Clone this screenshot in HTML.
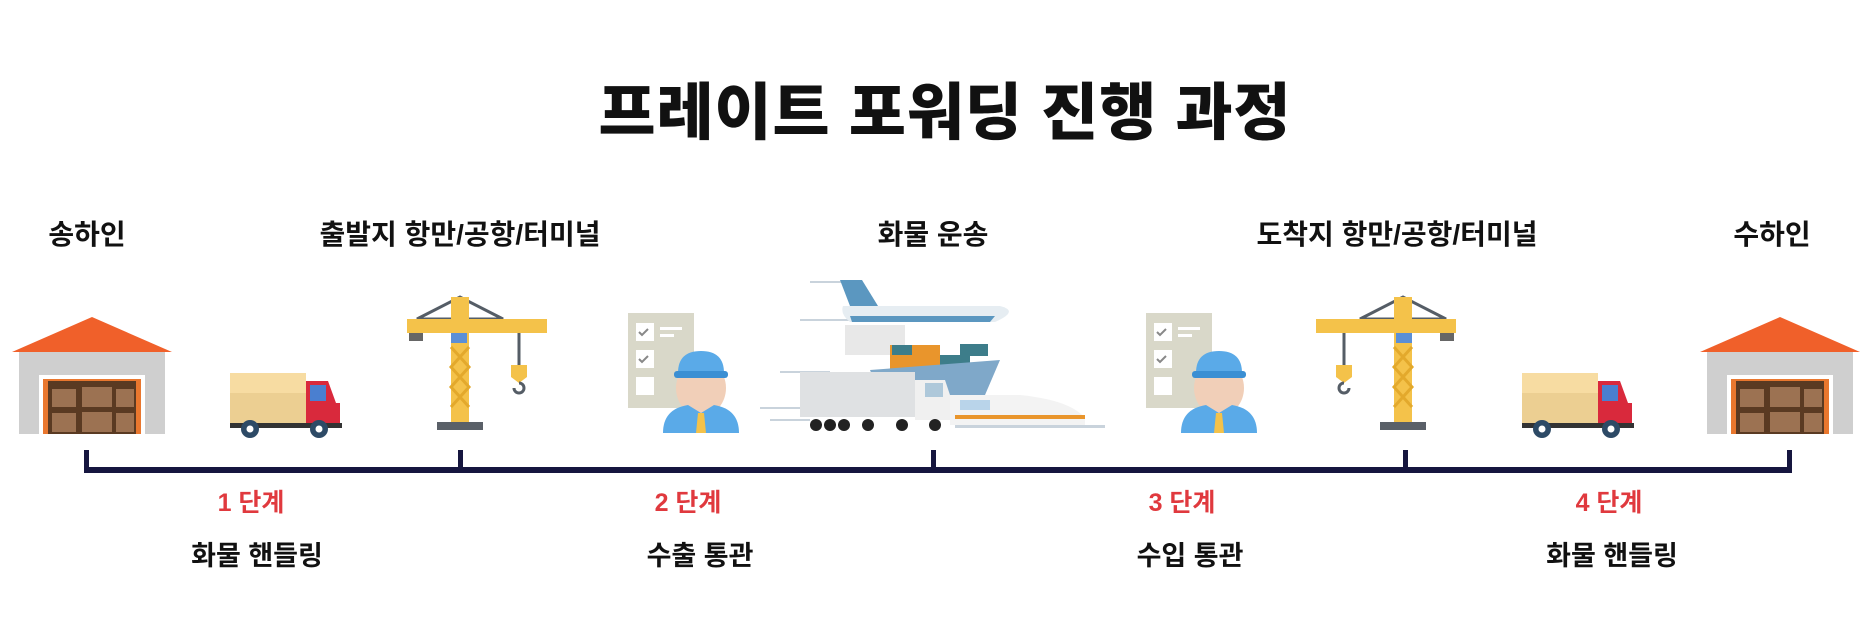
<!DOCTYPE html>
<html><head><meta charset="utf-8"><style>
html,body{margin:0;padding:0;background:#fff;}
body{width:1875px;height:625px;position:relative;overflow:hidden;font-family:"Liberation Sans","Noto Sans CJK KR",sans-serif;}
.t{position:absolute;transform:translateX(-50%);white-space:nowrap;font-weight:700;color:#111;}
.title{top:62px;left:945px;font-size:62px;font-weight:900;letter-spacing:1px;}
.lab{top:213px;font-size:28px;}
.step{top:483px;font-size:25px;color:#e0393e;}
.desc{top:534px;font-size:27px;}
svg{position:absolute;left:0;top:0;}
</style></head><body>
<svg width="1875" height="625" viewBox="0 0 1875 625">
<defs>
 <g id="wh">
  <polygon points="0,35 80,0 160,35" fill="#f0602a"/>
  <rect x="7" y="35" width="146" height="82" fill="#cfcfcf"/>
  <rect x="27" y="58" width="106" height="59" fill="#fff"/>
  <rect x="31" y="62" width="98" height="55" fill="#e9772e"/>
  <rect x="36" y="64" width="88" height="53" fill="#5a3a22"/>
  <rect x="40" y="72" width="24" height="18" fill="#9c7252"/><rect x="70" y="70" width="30" height="20" fill="#9c7252"/><rect x="104" y="72" width="18" height="18" fill="#9c7252"/>
  <rect x="40" y="96" width="24" height="19" fill="#9c7252"/><rect x="70" y="95" width="30" height="20" fill="#9c7252"/><rect x="104" y="96" width="18" height="19" fill="#9c7252"/>
 </g>
 <g id="tr">
  <rect x="0" y="0" width="76" height="33" fill="#f7dca2"/>
  <rect x="0" y="20" width="76" height="30" fill="#eccf92"/>
  <path d="M76 8 H98 L106 30 H110 V50 H76 Z" fill="#d9293c"/>
  <rect x="80" y="12" width="16" height="16" fill="#4a7fd0"/>
  <rect x="0" y="50" width="112" height="5" fill="#333"/>
  <circle cx="20" cy="56" r="9" fill="#2d4a66"/><circle cx="20" cy="56" r="3.5" fill="#fff"/>
  <circle cx="89" cy="56" r="9" fill="#2d4a66"/><circle cx="89" cy="56" r="3.5" fill="#fff"/>
 </g>
 <g id="cr">
  <polygon points="10,22 53,0 96,22" fill="none" stroke="#555d66" stroke-width="3"/>
  <rect x="0" y="22" width="140" height="14" fill="#f4c24a"/>
  <rect x="2" y="36" width="14" height="8" fill="#666"/>
  <rect x="44" y="0" width="18" height="128" fill="#f4c24a"/>
  <path d="M44 50 L62 70 L44 90 L62 110 M62 50 L44 70 L62 90 L44 110" stroke="#e3a92c" stroke-width="3" fill="none"/>
  <rect x="44" y="36" width="16" height="10" fill="#5b8fd6"/>
  <rect x="30" y="125" width="46" height="8" fill="#5a6068"/>
  <line x1="112" y1="36" x2="112" y2="68" stroke="#555d66" stroke-width="3"/>
  <path d="M104 68 H120 V80 L112 86 L104 80 Z" fill="#f4c24a"/>
  <path d="M112 86 a5 5 0 1 1 -5 5" stroke="#555d66" stroke-width="3" fill="none"/>
 </g>
 <g id="cu">
  <rect x="0" y="0" width="66" height="95" fill="#d9d8c9"/>
  <rect x="8" y="10" width="18" height="18" fill="#fff"/><rect x="32" y="14" width="22" height="3" fill="#fff"/><rect x="32" y="21" width="14" height="3" fill="#fff"/>
  <rect x="8" y="37" width="18" height="18" fill="#fff"/>
  <rect x="8" y="64" width="18" height="18" fill="#fff"/>
  <path d="M11 19 l3 3 l6 -6 M11 46 l3 3 l6 -6" stroke="#888" stroke-width="2" fill="none"/>
  <ellipse cx="73" cy="75" rx="25" ry="28" fill="#f1cfb8"/>
  <path d="M50 60 Q50 38 73 38 Q96 38 96 60 Z" fill="#5aaae8"/>
  <rect x="46" y="58" width="54" height="7" rx="3" fill="#3b8fd3"/>
  <path d="M35 120 Q35 96 60 92 L73 100 L86 92 Q111 96 111 120 Z" fill="#5aaae8"/>
  <polygon points="70,100 76,100 78,120 68,120" fill="#f4c24a"/>
 </g>
</defs>
<use href="#wh" x="12" y="317"/>
<use href="#wh" x="1700" y="317"/>
<use href="#tr" x="230" y="373"/>
<use href="#tr" x="1522" y="373"/>
<use href="#cr" x="407" y="297"/>
<use href="#cr" transform="translate(1456,297) scale(-1,1)"/>
<use href="#cu" x="628" y="313"/>
<use href="#cu" x="1146" y="313"/>
<g>
 <g stroke="#c9d3dc" stroke-width="2"><line x1="810" y1="282" x2="860" y2="282"/><line x1="800" y1="320" x2="850" y2="320"/><line x1="780" y1="372" x2="830" y2="372"/><line x1="760" y1="408" x2="810" y2="408"/><line x1="770" y1="420" x2="810" y2="420"/></g>
 <polygon points="840,280 862,280 878,306 850,306" fill="#5b97c0"/>
 <path d="M843 306 H1000 Q1020 311 995 322 H850 Q840 314 843 306 Z" fill="#e6edf2"/>
 <path d="M850 316 H995 L990 322 H852 Z" fill="#5b97c0"/>
 <rect x="845" y="325" width="60" height="30" fill="#e8e8e8"/>
 <rect x="890" y="345" width="50" height="25" fill="#e9952c"/><rect x="892" y="345" width="20" height="10" fill="#3d7d8a"/><rect x="940" y="355" width="30" height="15" fill="#3d7d8a"/><rect x="960" y="344" width="28" height="12" fill="#3d7d8a"/>
 <polygon points="870,370 1000,360 985,395 880,395" fill="#7fa8c9"/>
 <rect x="800" y="372" width="115" height="45" fill="#dfe1e3"/>
 <path d="M915 380 H945 L955 410 V420 H915 Z" fill="#f0f0f0"/>
 <rect x="925" y="383" width="18" height="14" fill="#aec8da"/>
 <path d="M950 395 H1020 Q1070 400 1085 418 V425 H950 Z" fill="#f3f3f3"/>
 <rect x="955" y="415" width="130" height="4" fill="#e9952c"/>
 <rect x="960" y="400" width="30" height="10" fill="#b9d4ea"/>
 <g fill="#222"><circle cx="816" cy="425" r="6"/><circle cx="830" cy="425" r="6"/><circle cx="844" cy="425" r="6"/><circle cx="868" cy="425" r="6"/><circle cx="902" cy="425" r="6"/><circle cx="935" cy="425" r="6"/></g>
 <rect x="955" y="425" width="150" height="3" fill="#c9d3dc"/>
</g>
<g fill="#16163f">
 <rect x="84" y="467" width="1708" height="6"/>
 <rect x="84" y="450" width="5" height="20"/>
 <rect x="458" y="450" width="5" height="20"/>
 <rect x="931" y="450" width="5" height="20"/>
 <rect x="1403" y="450" width="5" height="20"/>
 <rect x="1787" y="450" width="5" height="20"/>
</g>
</svg>
<div class="t title">프레이트 포워딩 진행 과정</div>
<div class="t lab" style="left:87px">송하인</div>
<div class="t lab" style="left:460px">출발지 항만/공항/터미널</div>
<div class="t lab" style="left:933px">화물 운송</div>
<div class="t lab" style="left:1397px">도착지 항만/공항/터미널</div>
<div class="t lab" style="left:1772px">수하인</div>
<div class="t step" style="left:251px">1 단계</div>
<div class="t step" style="left:688px">2 단계</div>
<div class="t step" style="left:1182px">3 단계</div>
<div class="t step" style="left:1609px">4 단계</div>
<div class="t desc" style="left:257px">화물 핸들링</div>
<div class="t desc" style="left:700px">수출 통관</div>
<div class="t desc" style="left:1190px">수입 통관</div>
<div class="t desc" style="left:1612px">화물 핸들링</div>
</body></html>
